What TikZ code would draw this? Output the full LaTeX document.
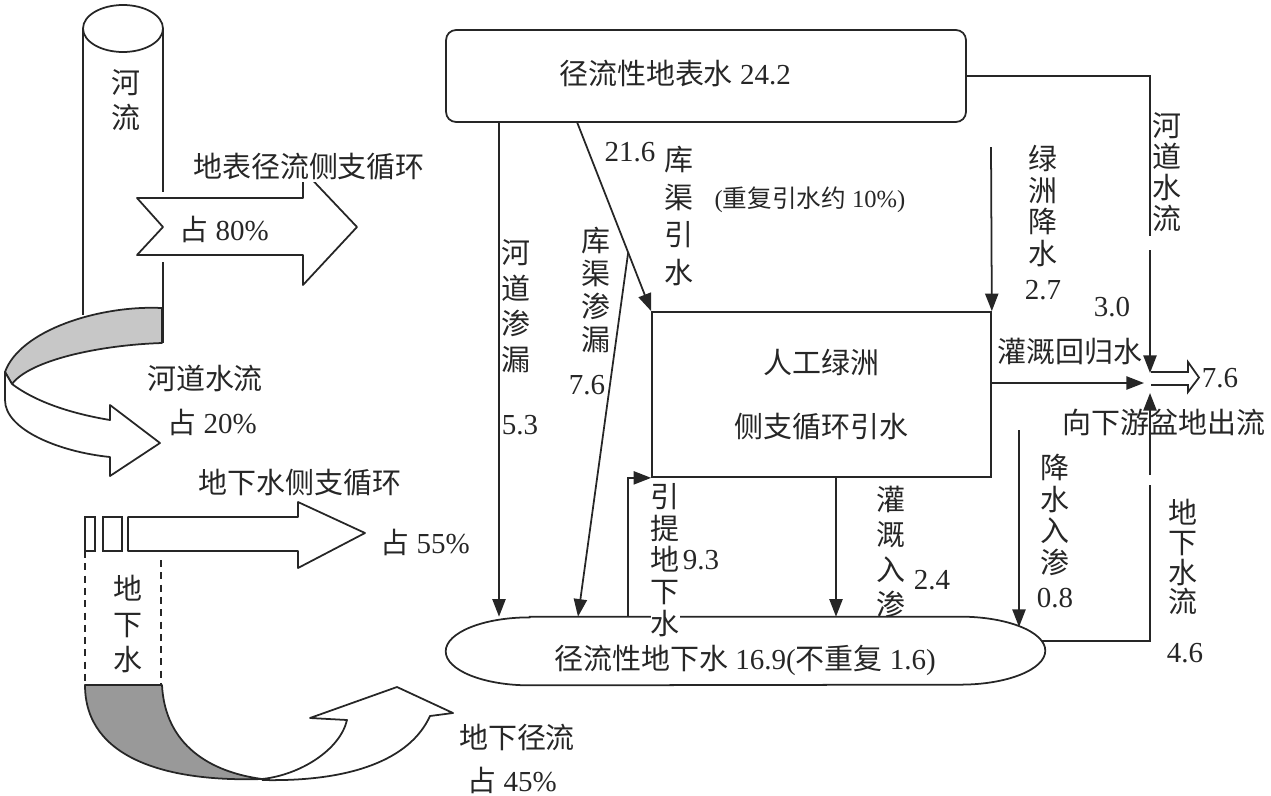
\documentclass[tikz,border=0pt]{standalone}
\usepackage{fontspec}
\setmainfont{Liberation Serif}
\newfontfamily\cjk{Noto Sans CJK SC}
\newcommand{\zh}[1]{{\cjk #1}}
\usetikzlibrary{arrows.meta,calc}
\tikzstyle{conn}=[draw,line width=1pt,black!85]
\tikzstyle{flow}=[conn,-{Triangle[length=10pt,width=7.5pt]}]
\tikzstyle{band}=[draw,line width=1pt,black!85,fill=white,line join=round]
\tikzstyle{shadeband}=[band,fill=black!22]
\tikzstyle{box}=[draw,line width=1pt,black!85,inner sep=0pt]
\tikzstyle{txt}=[inner sep=1pt,text=black!85]
\tikzset{vlabel/.style={txt,align=center,inner sep=0pt,font=\cjk\fontsize{16.5}{#1}\selectfont},vlabel/.default=19pt}

\begin{document}
\begin{tikzpicture}[x=0.02cm,y=-0.02cm,font=\fontsize{16.5}{20}\selectfont]
    \path[use as bounding box] (0,0) rectangle (1271,795);

    % river column and its two branches
    \draw[conn] (83,28) -- (83,315);
    \draw[conn] (163,28) -- (163,192);
    \draw[conn] (163,262) -- (163,343);
    \draw[conn] (123,28.5) ellipse [x radius=0.8cm,y radius=0.47cm];
    \draw[shadeband] (162,308) .. controls (100,305) and (20,330) .. (5,372) -- (12,384) .. controls (30,360) and (100,345) .. (162,343) -- cycle;
    \draw[band] (12,384) .. controls (40,405) and (80,415) .. (110,420) -- (110,405) -- (160,443) -- (110,476) -- (110,457) .. controls (60,452) and (5,430) .. (5,400) -- (5,372) -- cycle;
    \draw[band] (137,198) -- (303,198) -- (303,170) -- (357,227) -- (303,285) -- (303,255) -- (137,255) -- (163,227) -- cycle;

    % groundwater column
    \draw[conn] (85,517) rectangle (95,551);
    \draw[conn] (103,517) rectangle (122,551);
    \draw[band] (128,517) -- (298,517) -- (298,502) -- (365,533) -- (298,568) -- (298,551) -- (128,551) -- cycle;
    \draw[conn,dash pattern=on 4pt off 3pt] (85,551) -- (85,685) (161,560) -- (161,685);
    \draw[shadeband,fill=black!40] (85,685) -- (162,685) .. controls (165,745) and (210,772) .. (262,779) .. controls (170,782) and (85,760) .. (85,685) -- cycle;
    \draw[band] (262,779) .. controls (300,775) and (340,750) .. (347,720) -- (310,718) -- (397,687) -- (453,713) -- (430,716) .. controls (410,760) and (350,782) .. (262,780);

    \node[vlabel=19.8pt] (river) at (126,100) {河\\流};
    \node[txt,fill=white,font=\cjk\fontsize{16.5}{20}\selectfont] (surfcyc) at (309,167) {地表径流侧支循环};
    \node[txt] (p80) at (224,229) {\zh{占}\ 80\%};
    \node[txt,font=\cjk\fontsize{16.5}{20}\selectfont] (chflow) at (205,378) {河道水流};
    \node[txt] (p20) at (212,422) {\zh{占}\ 20\%};
    \node[txt,font=\cjk\fontsize{16.5}{20}\selectfont] (gwcyc) at (300,483) {地下水侧支循环};
    \node[txt] (p55) at (425,542) {\zh{占}\ 55\%};
    \node[vlabel=20.4pt] (gwcol) at (128,624) {地\\下\\水};
    \node[txt,font=\cjk\fontsize{16.5}{20}\selectfont] (gwrun) at (517,737) {地下径流};
    \node[txt] (p45) at (512,780) {\zh{占}\ 45\%};

    % water balance
    \node[box,rounded corners=0.2cm,minimum width=10.4cm,minimum height=1.84cm] (sw) at (706,76) {};
    \node[txt] (swtxt) at (675,73) {\zh{径流性地表水}\ 24.2};
    \node[box,minimum width=6.78cm,minimum height=3.3cm,align=center,text=black!85,font=\cjk\fontsize{16.5}{36}\selectfont] (oasis) at (821.5,394.5) {人工绿洲\\侧支循环引水};
    \node[minimum width=8.6cm,minimum height=1.36cm,inner sep=0pt] (gw) at (745,651) {};
    \draw[conn] (gw.north west) -- (gw.north east) arc[start angle=90,end angle=-90,x radius=1.7cm,y radius=0.68cm] -- (gw.south west) arc[start angle=270,end angle=90,x radius=1.68cm,y radius=0.68cm] -- cycle;
    \node[txt] (gwtxt) at (745,660) {\zh{径流性地下水}\ 16.9(\zh{不重复}\ 1.6)};

    \coordinate (kq) at (577,122);
    \coordinate (rain) at (991,147);
    \coordinate (seep) at (1019,430);
    \coordinate (seepend) at (1019,627);
    \coordinate (rc1) at (1150,76);
    \coordinate (rc2) at (1150,236);
    \coordinate (rc3) at (1150,250);
    \coordinate (jtop) at (1150,373);
    \coordinate (jleft) at (1144,383);
    \coordinate (jbot) at (1150,393);
    \coordinate (gwr) at (1041,641);
    \coordinate (gc1) at (1150,641);
    \coordinate (gc2) at (1150,485);
    \coordinate (gc3) at (1150,475);

    \path[flow] (499,0 |- sw.south) -- (499,0 |- gw.north);
    \path[flow] (kq) -- (oasis.north west);
    \path[flow] ($(kq)!0.69!(oasis.north west)$) -- (578,0 |- gw.north);
    \path[flow] (628,0 |- gw.north) |- (oasis.south west);
    \path[flow] (836,0 |- oasis.south) -- (836,0 |- gw.north);
    \path[flow] (rain) -- (oasis.north east);
    \path[flow] (seep) -- (seepend);
    \path[conn] (sw.east) -- (rc1) -- (rc2);
    \path[flow] (rc3) -- (jtop);
    \path[flow] (oasis.east |- jleft) -- (jleft);
    \path[conn] (gwr) -- (gc1) -- (gc2);
    \path[flow] (gc3) -- (jbot);
    \draw[conn] (1151,372) -- (1188,372) -- (1188,362) -- (1199,377.5) -- (1188,392) -- (1188,385) -- (1151,385);

    \node[txt] (n216) at (630,152) {21.6};
    \node[vlabel=21.5pt] (kqys) at (679,216) {库\\渠\\引\\水};
    \node[txt,font=\fontsize{14}{16}\selectfont] (dup) at (810,200) {(\zh{重复引水约}\ 10\%)};
    \node[vlabel=20.2pt] (hdsl) at (516,306) {河\\道\\渗\\漏};
    \node[txt] (n53) at (520,425) {5.3};
    \node[vlabel=18.7pt] (kqsl) at (596,290) {库\\渠\\渗\\漏};
    \node[txt] (n76a) at (587,385) {7.6};
    \node[vlabel=18.1pt] (lzjs) at (1043,206) {绿\\洲\\降\\水};
    \node[txt] (n27) at (1043,290) {2.7};
    \node[txt] (n30) at (1112,307) {3.0};
    \node[txt,font=\cjk\fontsize{16.5}{20}\selectfont] (ggh) at (1070,352) {灌溉回归水};
    \node[vlabel=17.6pt] (hdsl2) at (1167,172) {河\\道\\水\\流};
    \node[txt] (n76b) at (1220,378) {7.6};
    \node[txt,font=\cjk\fontsize{16.5}{20}\selectfont] (xyout) at (1164,422) {向下游盆地出流};
    \node[vlabel=18.1pt] (jsrs) at (1055,515) {降\\水\\入\\渗};
    \node[txt] (n08) at (1055,598) {0.8};
    \node[vlabel=17pt] (dxsl) at (1183,557) {地\\下\\水\\流};
    \node[txt] (n46) at (1185,653) {4.6};
    \node[vlabel=18.1pt,fill=white] (ytdx) at (665,560) {引\\提\\地\\下\\水};
    \node[txt] (n93) at (701,560) {9.3};
    \node[vlabel=19.8pt] (ggrs) at (891,552) {灌\\溉\\入\\渗};
    \node[txt] (n24) at (932,580) {2.4};
\end{tikzpicture}
\end{document}
